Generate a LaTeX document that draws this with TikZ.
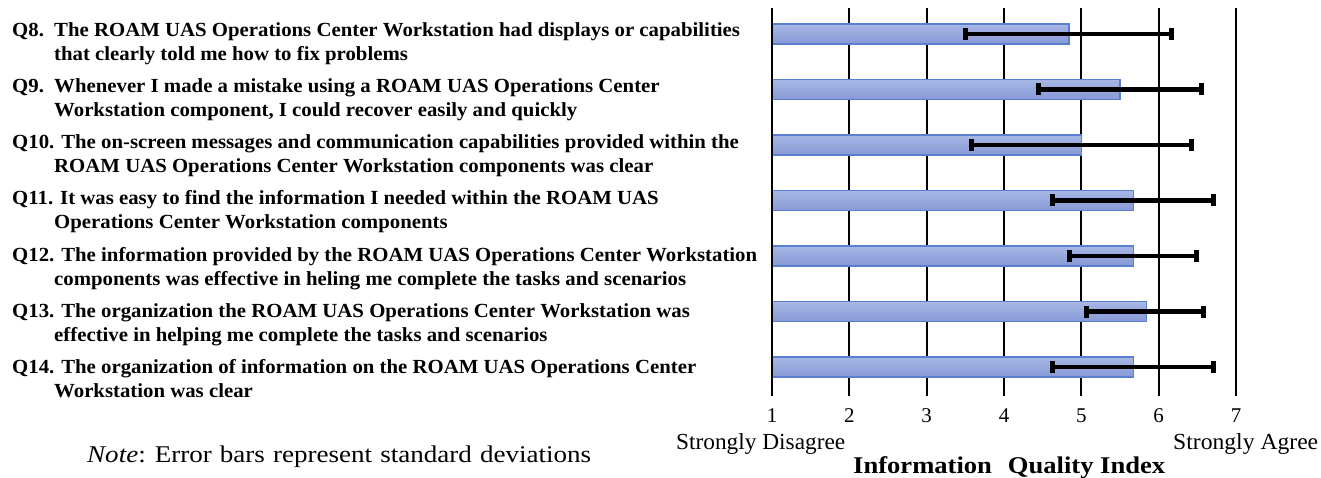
\documentclass[tikz,border=0pt]{standalone}
\usepackage{graphicx}
\usepackage{fontspec}
\setmainfont{Liberation Serif}
\definecolor{barfillA}{HTML}{A7B7E5}
\definecolor{barfillB}{HTML}{8799D6}
\definecolor{barline}{HTML}{5A7FCF}
\newcommand\vx[1]{{772+((#1)-1)*77.33}}
\newcommand\qbar[5]{%
  \shade[top color=barfillA,bottom color=barfillB,draw=barline,line width=1.2pt]
    (772,#1-10) rectangle (\vx{#2},#1+10);
  \coordinate (lo#5) at (\vx{#3},#1);
  \coordinate (hi#5) at (\vx{#4},#1);
  \draw[errline] (lo#5) -- (hi#5);
  \fill[errcap] ([xshift=-2.5pt,yshift=6pt]lo#5) rectangle ([xshift=2.5pt,yshift=-6pt]lo#5);
  \fill[errcap] ([xshift=-2.5pt,yshift=6pt]hi#5) rectangle ([xshift=2.5pt,yshift=-6pt]hi#5);
}
\newcommand\qs[1]{\scalebox{1.04}[1]{#1}}
\tikzset{
  qtext/.style={anchor=base west,inner sep=0pt,font=\fontsize{20}{24}\selectfont\bfseries},
  grid/.style={line width=1.8pt,black},
  errline/.style={line width=4.5pt,black},
  errcap/.style={black},
  ticklab/.style={anchor=base,inner sep=0pt,font=\fontsize{21}{24}\selectfont},
  axlab/.style={anchor=base west,inner sep=0pt,font=\fontsize{23}{26}\selectfont},
}
\begin{document}
\begin{tikzpicture}[x=1pt,y=-1pt]
\useasboundingbox (0,0) rectangle (1321,478);
% grid lines
\foreach \v in {2,...,7} {\draw[grid] (\vx{\v},8) -- (\vx{\v},396);}
% bars
\qbar{34}{4.84}{3.50}{6.17}{a}
\qbar{89.5}{5.50}{4.45}{6.56}{b}
\qbar{145}{5.00}{3.58}{6.43}{c}
\qbar{200.5}{5.67}{4.63}{6.71}{d}
\qbar{256}{5.67}{4.85}{6.49}{e}
\qbar{311.5}{5.84}{5.07}{6.58}{f}
\qbar{367}{5.67}{4.63}{6.71}{g}
\draw[grid] (772,8) -- (772,396);
% tick labels
\foreach \v in {1,...,7} {\node[ticklab] (t\v) at (\vx{\v},422) {\v};}
\node[axlab] (sd) at (676,449) {\resizebox{169pt}{\height}{Strongly Disagree}};
\node[axlab] (sa) at (1173,449) {\resizebox{145pt}{\height}{Strongly Agree}};
\node[anchor=base west,inner sep=0pt,font=\fontsize{24}{28}\selectfont\bfseries] (xl) at (853,473) {\resizebox{312pt}{\height}{Information\hspace{0.6em}Quality Index}};
% question texts
\node[qtext] (q8n) at (12,37) {\qs{Q8.}};
\node[qtext] (q8a) at (54,37) {\qs{The ROAM UAS Operations Center Workstation had displays or capabilities}};
\node[qtext] (q8b) at (54,61) {\qs{that clearly told me how to fix problems}};
\node[qtext] (q9n) at (12,93) {\qs{Q9.}};
\node[qtext] (q9a) at (54,93) {\qs{Whenever I made a mistake using a ROAM UAS Operations Center}};
\node[qtext] (q9b) at (54,117) {\qs{Workstation component, I could recover easily and quickly}};
\node[qtext] (q10a) at (12,149) {\qs{Q10. The on-screen messages and communication capabilities provided within the}};
\node[qtext] (q10b) at (54,173) {\qs{ROAM UAS Operations Center Workstation components was clear}};
\node[qtext] (q11a) at (12,205) {\qs{Q11. It was easy to find the information I needed within the ROAM UAS}};
\node[qtext] (q11b) at (54,229) {\qs{Operations Center Workstation components}};
\node[qtext] (q12a) at (12,261) {\qs{Q12. The information provided by the ROAM UAS Operations Center Workstation}};
\node[qtext] (q12b) at (54,285) {\qs{components was effective in heling me complete the tasks and scenarios}};
\node[qtext] (q13a) at (12,317) {\qs{Q13. The organization the ROAM UAS Operations Center Workstation was}};
\node[qtext] (q13b) at (54,341) {\qs{effective in helping me complete the tasks and scenarios}};
\node[qtext] (q14a) at (12,373) {\qs{Q14. The organization of information on the ROAM UAS Operations Center}};
\node[qtext] (q14b) at (54,397) {\qs{Workstation was clear}};
% note
\node[anchor=base west,inner sep=0pt,font=\fontsize{24}{28}\selectfont] (note) at (87,462) {\resizebox{504pt}{\height}{\textit{Note}: Error\hspace{0.3em}bars\hspace{0.3em}represent\hspace{0.3em}standard\hspace{0.3em}deviations}};
\end{tikzpicture}
\end{document}
